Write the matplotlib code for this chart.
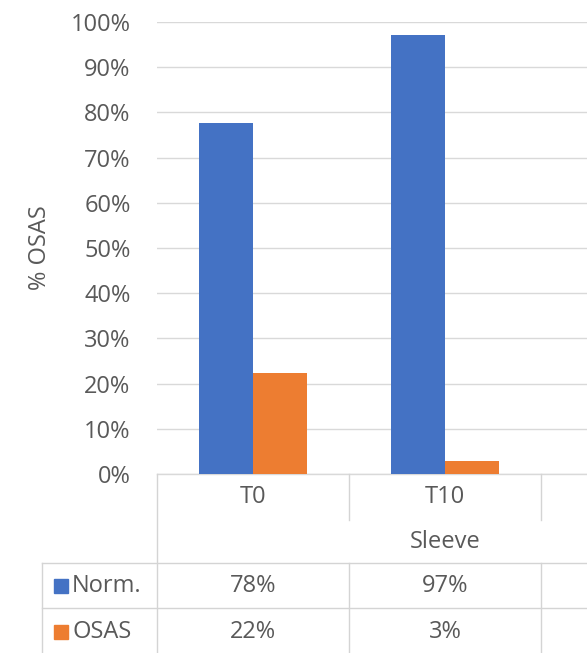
import matplotlib
matplotlib.use("Agg")
import matplotlib.pyplot as plt
from matplotlib.transforms import blended_transform_factory
from matplotlib.lines import Line2D
from matplotlib.patches import Rectangle
from matplotlib.ticker import PercentFormatter
import numpy as np

# data
categories = ["T0", "T10"]
group_label = "Sleeve"
series_names = ["Norm.", "OSAS"]
norm_values = [0.776, 0.971]
osas_values = [0.224, 0.029]
y_ticks = np.arange(0, 1.01, 0.1)

colors = ["#4472C4", "#ED7D31"]
text_col = "#595959"
grid_col = "#d9d9d9"
line_col = "#d4d4d4"

plt.rcParams['font.family'] = ['Open Sans', 'DejaVu Sans']

W, H = 587, 653
fig = plt.figure(figsize=(W / 100, H / 100), dpi=100)


def fx(px):
    return px / W


def fy(py):
    return 1 - py / H


# plot area runs past the right edge (third category is cut off in the original)
ax = fig.add_axes([fx(157), fy(474), fx(733) - fx(157), fy(22) - fy(474)])

x = np.arange(len(categories))
w = 0.279
ax.bar(x - w / 2, norm_values, w, color=colors[0], zorder=3)
ax.bar(x + w / 2, osas_values, w, color=colors[1], zorder=3)

ax.set_xlim(-0.5, 2.5)
ax.set_ylim(0, 1)
ax.set_yticks(y_ticks)
ax.yaxis.set_major_formatter(PercentFormatter(1.0, decimals=0))
ax.set_xticks([])
ax.tick_params(axis='y', length=0, labelsize=17, colors=text_col, pad=19)
ax.grid(axis='y', color=grid_col, linewidth=1, zorder=0)
for s in ['top', 'right', 'left']:
    ax.spines[s].set_visible(False)
ax.spines['bottom'].set_color(grid_col)
ax.spines['bottom'].set_linewidth(1)

fig.text(fx(40), fy(248), "% OSAS", rotation=90, ha='center', va='center',
         fontsize=17, color=text_col)

# data table under the axis
tr = blended_transform_factory(ax.transData, fig.transFigure)
bounds = np.arange(-0.5, 3.0, 1.0)


def vline(xv, y0, y1, transform):
    fig.add_artist(Line2D([xv, xv], [fy(y0), fy(y1)], transform=transform,
                          color=line_col, linewidth=1, clip_on=False))


def hline(py):
    fig.add_artist(Line2D([fx(42), 1], [fy(py), fy(py)], transform=fig.transFigure,
                          color=line_col, linewidth=1, clip_on=False))


vline(bounds[0], 474, 653, tr)
for b in bounds[1:]:
    vline(b, 474, 520, tr)
    vline(b, 563, 653, tr)
vline(fx(42), 563, 653, fig.transFigure)
hline(563)
hline(608)

for i, cat in enumerate(categories):
    fig.text(i, fy(497), cat, transform=tr, ha='center', va='center',
             fontsize=17, color=text_col)
fig.text(bounds.mean(), fy(542), group_label, transform=tr, ha='center',
         va='center', fontsize=17, color=text_col)

row_y = [586, 632]
for vals, name, col, ry in zip([norm_values, osas_values], series_names, colors, row_y):
    fig.add_artist(Rectangle((fx(54), fy(ry + 7)), fx(14), 14 / H,
                             transform=fig.transFigure, color=col))
    fig.text(fx(72), fy(ry), name, ha='left', va='center', fontsize=17, color=text_col)
    for i, v in enumerate(vals):
        fig.text(i, fy(ry), f"{v:.0%}", transform=tr, ha='center', va='center',
                 fontsize=17, color=text_col)

fig.savefig("out.png", dpi=100)
